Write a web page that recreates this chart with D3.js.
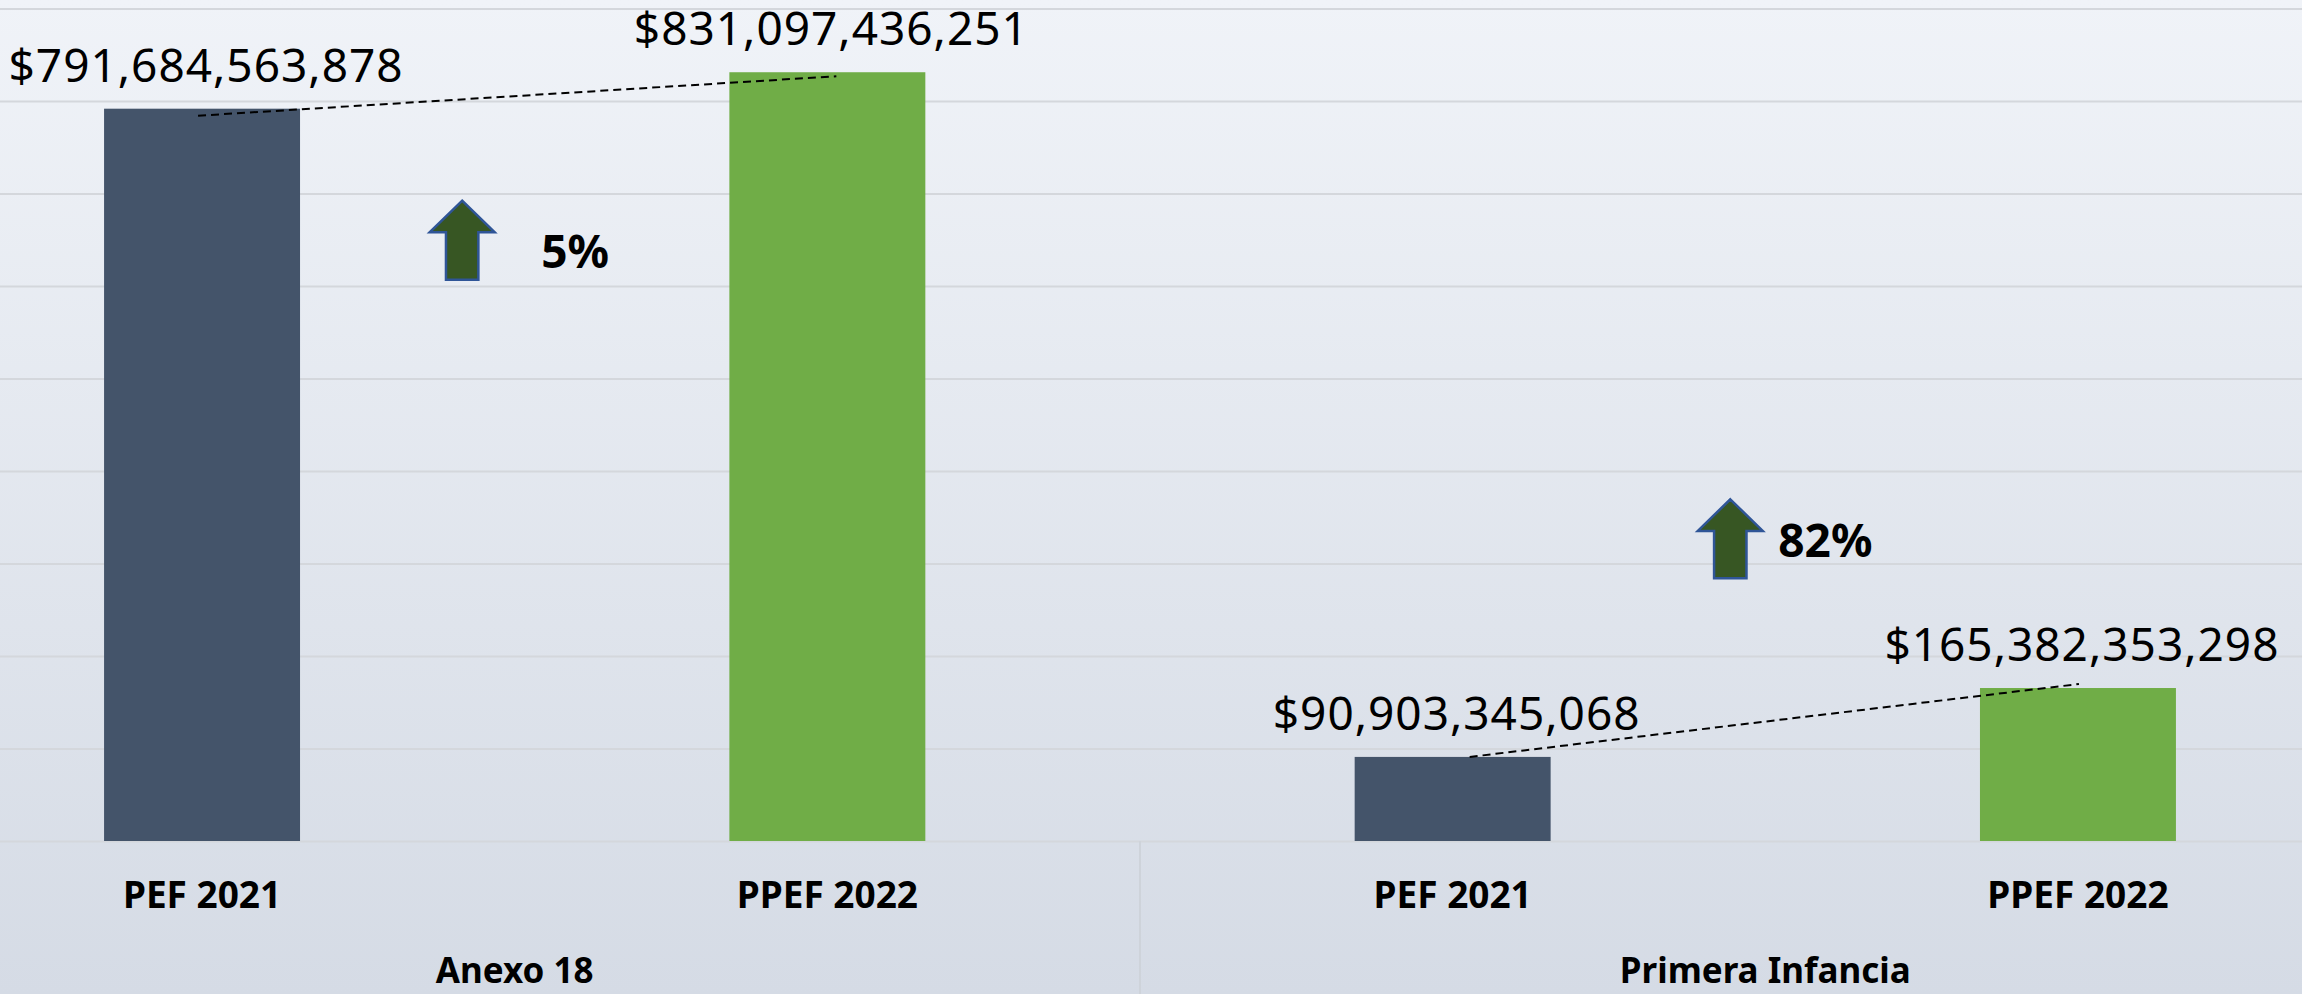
<!DOCTYPE html>
<html>
<head>
<meta charset="utf-8">
<script src="https://cdn.jsdelivr.net/npm/d3@7"></script>
<style>
  html, body { margin: 0; padding: 0; overflow: hidden; }
  text { font-family: "Noto Sans", sans-serif; }
</style>
</head>
<body>
<div id="chart"></div>
<script>
// datos del gráfico
const groups = ['Anexo 18', 'Primera Infancia'];
const series = ['PEF 2021', 'PPEF 2022'];
const pef2021 = [791684563878, 90903345068];
const ppef2022 = [831097436251, 165382353298];
const yTicks = [0, 100e9, 200e9, 300e9, 400e9, 500e9, 600e9, 700e9, 800e9, 900e9];

const width = 2302;
const height = 994;
const colors = { 'PEF 2021': '#44546A', 'PPEF 2022': '#70AD47' };

const svg = d3.select('#chart')
    .append('svg')
    .attr('width', width)
    .attr('height', height);

// fondo degradado
const defs = svg.append('defs');
const grad = defs.append('linearGradient')
    .attr('id', 'bg')
    .attr('x1', 0).attr('y1', 0).attr('x2', 0).attr('y2', 1);
grad.append('stop').attr('offset', '0%').attr('stop-color', '#F0F3F8');
grad.append('stop').attr('offset', '100%').attr('stop-color', '#D5DBE5');
svg.append('rect').attr('width', width).attr('height', height).attr('fill', 'url(#bg)');

// escalas (el área de trazado queda recortada a la izquierda y derecha)
const x0 = d3.scaleBand()
    .domain(groups)
    .range([-110.6, 2390.6]);

const x1 = d3.scaleBand()
    .domain(series)
    .range([0, x0.bandwidth()])
    .paddingInner(0.6866)
    .paddingOuter(0.3433);

const y = d3.scaleLinear()
    .domain([0, 900e9])
    .range([841, 8.5]);

// líneas de cuadrícula
svg.append('g')
    .attr('class', 'grid')
    .call(d3.axisLeft(y).tickValues(yTicks).tickSize(-width).tickFormat(''))
    .call(g => g.select('.domain').remove())
    .call(g => g.selectAll('line')
        .attr('stroke', '#D4D7DC')
        .attr('stroke-width', 2));

// separador entre grupos
svg.append('line')
    .attr('x1', x0('Primera Infancia')).attr('x2', x0('Primera Infancia'))
    .attr('y1', y(0)).attr('y2', height)
    .attr('stroke', '#CED3DA')
    .attr('stroke-width', 2);

const rows = groups.map((g, i) => ({
    group: g,
    values: [
        { key: 'PEF 2021', value: pef2021[i] },
        { key: 'PPEF 2022', value: ppef2022[i] }
    ]
}));

const fmt = v => '$' + d3.format(',')(v);

const gGroups = svg.selectAll('.grupo')
    .data(rows)
    .enter()
    .append('g')
    .attr('class', 'grupo')
    .attr('transform', d => `translate(${x0(d.group)},0)`);

// barras
gGroups.selectAll('rect')
    .data(d => d.values)
    .enter()
    .append('rect')
    .attr('x', d => x1(d.key))
    .attr('y', d => y(d.value))
    .attr('width', x1.bandwidth())
    .attr('height', d => y(0) - y(d.value))
    .attr('fill', d => colors[d.key]);

// etiquetas de valor
gGroups.selectAll('.valor')
    .data(d => d.values)
    .enter()
    .append('text')
    .attr('class', 'valor')
    .attr('x', d => x1(d.key) + x1.bandwidth() / 2 + 4)
    .attr('y', d => y(d.value) - 27)
    .attr('text-anchor', 'middle')
    .attr('font-size', 46)
    .attr('letter-spacing', 1)
    .attr('fill', '#000')
    .text(d => fmt(d.value));

// etiquetas de categoría
gGroups.selectAll('.cat')
    .data(d => d.values)
    .enter()
    .append('text')
    .attr('class', 'cat')
    .attr('x', d => x1(d.key) + x1.bandwidth() / 2)
    .attr('y', 908)
    .attr('text-anchor', 'middle')
    .attr('font-size', 37)
    .attr('font-weight', 'bold')
    .text(d => d.key);

// etiquetas de grupo
gGroups.append('text')
    .attr('x', x0.bandwidth() / 2)
    .attr('y', 983)
    .attr('text-anchor', 'middle')
    .attr('font-size', 35)
    .attr('font-weight', 'bold')
    .text(d => d.group);

// líneas punteadas entre barras (colocadas a mano, como en el original)
const connOffsets = [
    { a: [-4, 7], b: [9, 4] },
    { a: [17, 0], b: [1, -4] }
];
gGroups.append('line')
    .attr('x1', (d, i) => x1('PEF 2021') + x1.bandwidth() / 2 + connOffsets[i].a[0])
    .attr('y1', (d, i) => y(d.values[0].value) + connOffsets[i].a[1])
    .attr('x2', (d, i) => x1('PPEF 2022') + x1.bandwidth() / 2 + connOffsets[i].b[0])
    .attr('y2', (d, i) => y(d.values[1].value) + connOffsets[i].b[1])
    .attr('stroke', '#000')
    .attr('stroke-width', 2)
    .attr('stroke-dasharray', '8,5');

// flechas de crecimiento
const arrowPos = [
    { fx: 0.416, tipY: 200.7, tx: 79, ty: 67 },
    { fx: 0.444, tipY: 499.3, tx: 48, ty: 58 }
];
function arrowPath(cx, ty) {
    const hw = 32.5, hh = 31.6, sw = 16.2, h = 79;
    return `M${cx},${ty} L${cx + hw},${ty + hh} L${cx + sw},${ty + hh} L${cx + sw},${ty + h}` +
        ` L${cx - sw},${ty + h} L${cx - sw},${ty + hh} L${cx - hw},${ty + hh} Z`;
}
gGroups.each(function (d, i) {
    const g = d3.select(this);
    const c0 = x1('PEF 2021') + x1.bandwidth() / 2;
    const cx = c0 + arrowPos[i].fx * x1.step();
    g.append('path')
        .attr('d', arrowPath(cx, arrowPos[i].tipY))
        .attr('fill', '#375623')
        .attr('stroke', '#2F5597')
        .attr('stroke-width', 2.5);
    const pct = Math.round((d.values[1].value / d.values[0].value - 1) * 100);
    g.append('text')
        .attr('x', cx + arrowPos[i].tx)
        .attr('y', arrowPos[i].tipY + arrowPos[i].ty)
        .attr('font-size', 46)
        .attr('font-weight', 'bold')
        .text(pct + '%');
});
</script>
</body>
</html>
